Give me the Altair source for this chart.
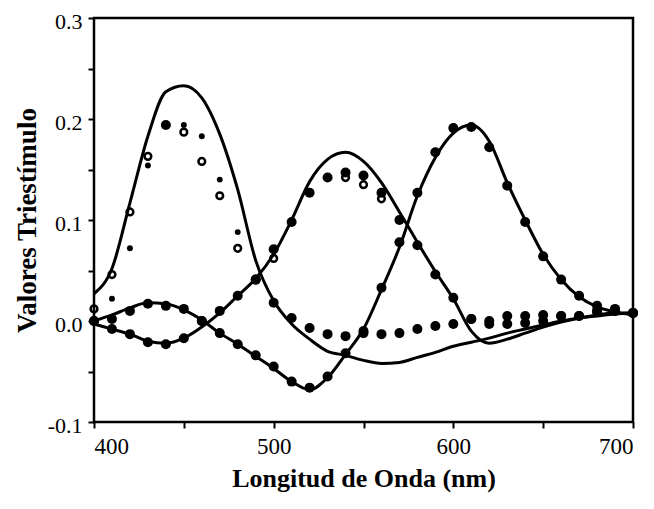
import altair as alt
import pandas as pd

wl = list(range(400, 701, 10))

# solid curves (10 nm steps)
line_blue = [0.027, 0.052, 0.117, 0.183, 0.227, 0.233, 0.221, 0.185, 0.130, 0.060,
             0.020, -0.003, -0.018, -0.030, -0.034, -0.039, -0.042, -0.041, -0.036, -0.031,
             -0.025, -0.021, -0.017, -0.012, -0.008, -0.004, 0.000, 0.003, 0.005, 0.007, 0.008]
line_green = [-0.003, -0.008, -0.013, -0.020, -0.022, -0.017, -0.006, 0.008, 0.025, 0.042,
              0.066, 0.100, 0.138, 0.160, 0.167, 0.158, 0.137, 0.108, 0.078, 0.049,
              0.022, -0.010, -0.022, -0.018, -0.012, -0.006, -0.001, 0.003, 0.006, 0.008, 0.008]
line_red = [0.000, 0.006, 0.013, 0.018, 0.017, 0.011, 0.001, -0.012, -0.023, -0.035,
            -0.047, -0.060, -0.068, -0.056, -0.033, -0.008, 0.031, 0.073, 0.124, 0.162,
            0.186, 0.194, 0.178, 0.137, 0.100, 0.066, 0.041, 0.024, 0.014, 0.009, 0.006]

# large filled dots
dots_red = [0.000, 0.002, 0.010, 0.017, 0.015, 0.012, 0.000, -0.012, -0.023, -0.034,
            -0.045, -0.060, -0.066, -0.055, -0.032, -0.010, 0.033, 0.078, 0.127, 0.167,
            0.191, 0.192, 0.172, 0.134, 0.098, 0.064, 0.041, 0.025, 0.015, 0.012, 0.008]
dots_green = [0.000, -0.008, -0.013, -0.021, -0.023, -0.017, 0.000, 0.010, 0.025, 0.041,
              0.071, 0.098, 0.127, 0.142, 0.147, 0.144, 0.127, 0.100, 0.075, 0.046,
              0.023, 0.002, -0.003, -0.003, -0.002, 0.000, 0.005, 0.005, 0.009, 0.010, 0.008]
wl_blue_tail = [440] + list(range(490, 701, 10))
dots_blue_tail = [0.194, 0.041, 0.018, 0.003, -0.007, -0.013, -0.015, -0.012, -0.013, -0.012,
                  -0.008, -0.005, -0.003, 0.002, 0.000, 0.005, 0.005, 0.006, 0.005, 0.005,
                  0.010, 0.010, 0.008]

# open circles
wl_open = [400, 410, 420, 430, 450, 460, 470, 480, 500, 540, 550, 560]
dots_open = [0.012, 0.046, 0.108, 0.163, 0.187, 0.158, 0.124, 0.072, 0.062, 0.142, 0.135, 0.121]

# small filled dots
wl_small = [410, 420, 430, 450, 460, 470, 480]
dots_small = [0.022, 0.072, 0.154, 0.194, 0.183, 0.140, 0.088]

lines = pd.DataFrame(
    [{"wl": w, "v": v, "s": "b"} for w, v in zip(wl, line_blue)]
    + [{"wl": w, "v": v, "s": "g"} for w, v in zip(wl, line_green)]
    + [{"wl": w, "v": v, "s": "r"} for w, v in zip(wl, line_red)]
)
big = pd.DataFrame(
    [{"wl": w, "v": v} for w, v in zip(wl, dots_red)]
    + [{"wl": w, "v": v} for w, v in zip(wl, dots_green)]
    + [{"wl": w, "v": v} for w, v in zip(wl_blue_tail, dots_blue_tail)]
)
opn = pd.DataFrame({"wl": wl_open, "v": dots_open})
small = pd.DataFrame({"wl": wl_small, "v": dots_small})

FONT = "Liberation Serif"

xs = alt.Scale(domain=[400, 700], nice=False, zero=False)
ys = alt.Scale(domain=[-0.1, 0.3], nice=False, zero=False)

xaxis = alt.Axis(
    values=[400, 450, 500, 550, 600, 650, 700],
    labelExpr="datum.value % 100 == 0 ? datum.label : ''",
    format="d",
    title="Longitud de Onda (nm)",
    grid=False,
    domain=False,
    tickColor="black", tickWidth=2, tickSize=6,
    labelFont=FONT, labelFontSize=23, labelColor="black", labelPadding=7,
    titleFont=FONT, titleFontSize=26, titleFontWeight="bold", titleColor="black",
    titlePadding=7,
)
yaxis = alt.Axis(
    values=[-0.1, -0.05, 0.0, 0.05, 0.1, 0.15, 0.2, 0.25, 0.3],
    labelExpr="abs(round(datum.value*100)) % 10 == 0 ? (datum.value < -0.001 ? '-' + format(abs(datum.value), '.1f') : format(abs(datum.value), '.1f')) : ''",
    title="Valores Triestímulo",
    grid=False,
    domain=False,
    tickColor="black", tickWidth=2, tickSize=6,
    labelFont=FONT, labelFontSize=22, labelColor="black", labelPadding=6,
    labelOffset=3,
    titleFont=FONT, titleFontSize=27, titleFontWeight="bold", titleColor="black",
    titlePadding=6,
)

X = alt.X("wl:Q", scale=xs, axis=xaxis)
Y = alt.Y("v:Q", scale=ys, axis=yaxis)

l_layer = alt.Chart(lines).mark_line(
    color="black", strokeWidth=3, interpolate="monotone"
).encode(x=X, y=Y, detail="s:N")

big_layer = alt.Chart(big).mark_circle(color="black", size=100, opacity=1).encode(x=X, y=Y)
open_layer = alt.Chart(opn).mark_point(
    shape="circle", filled=False, color="black", strokeWidth=2.5, size=45, opacity=1
).encode(x=X, y=Y)
small_layer = alt.Chart(small).mark_circle(color="black", size=35, opacity=1).encode(x=X, y=Y)

chart = alt.layer(l_layer, big_layer, open_layer, small_layer).properties(
    width=539,
    height=404,
    autosize=alt.AutoSizeParams(type="none"),
    padding={"left": 86, "top": 10, "right": 13, "bottom": 79},
    background="white",
).configure_view(
    stroke="black", strokeWidth=2.5
)

chart.save("out.html", embed_options={"renderer": "svg", "actions": False})
